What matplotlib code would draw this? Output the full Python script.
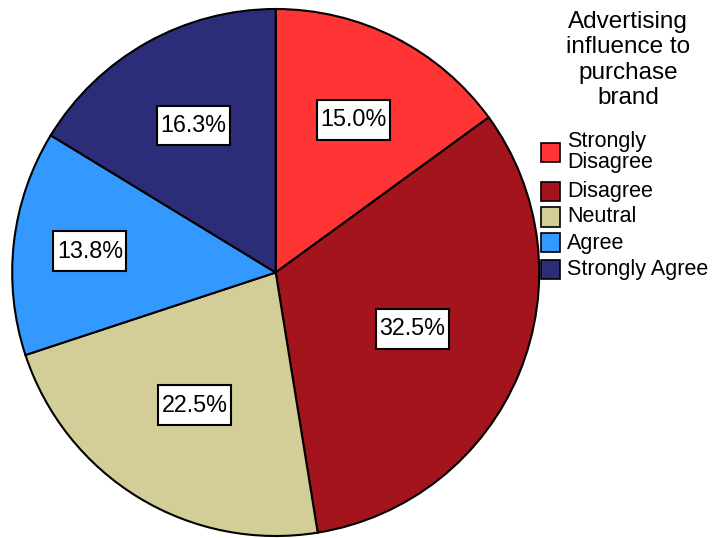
import numpy as np
import matplotlib
matplotlib.use('Agg')
import matplotlib.pyplot as plt
from matplotlib.patches import Rectangle
from matplotlib.path import Path

# 广告对品牌购买的影响 - 各选项占比
categories = ['Strongly\nDisagree', 'Disagree', 'Neutral', 'Agree', 'Strongly Agree']
percents = [15.0, 32.5, 22.5, 13.8, 16.3]
colors = ['#FF3535', '#A3141C', '#D3CE97', '#3399FF', '#2B2D78']
legend_title = 'Advertising\ninfluence to\npurchase\nbrand'

# 标签离圆心的距离（半径的比例）
label_dist = [0.65, 0.56, 0.59, 0.71, 0.64]

plt.rcParams['font.family'] = ['Liberation Sans', 'DejaVu Sans']

W, H = 714, 538
fig = plt.figure(figsize=(W / 100, H / 100), dpi=100)

def fx(x):
    return x / W

def fy(y):
    return 1 - y / H

# 标签方框：横向留白小，纵向留白大
def label_box(x0, y0, width, height, mutation_size):
    px = 0.15 * mutation_size
    py = 0.36 * mutation_size
    x0, y0 = x0 - px, y0 - py
    x1, y1 = x0 + width + 2 * px, y0 + height + 2 * py
    return Path([(x0, y0), (x1, y0), (x1, y1), (x0, y1), (x0, y0)], closed=True)

# 饼图区域，圆心约 (275.7, 272.5)，半径 263.5 像素
cx, cy, r = 275.7, 272.5, 263.5
ax = fig.add_axes([fx(cx - r), fy(cy + r), 2 * r / W, 2 * r / H])
wedges, _ = ax.pie(percents, colors=colors, startangle=90, counterclock=False,
                   radius=1, wedgeprops=dict(edgecolor='black', linewidth=1.5))
ax.set_xlim(-1, 1)
ax.set_ylim(-1, 1)
ax.axis('off')

for w, p, d in zip(wedges, percents, label_dist):
    mid = np.deg2rad((w.theta1 + w.theta2) / 2)
    ax.text(d * np.cos(mid), d * np.sin(mid), '%.1f%%' % p, fontsize=16.8,
            ha='center', va='center',
            bbox=dict(boxstyle=label_box, facecolor='white',
                      edgecolor='black', linewidth=1.5))

# 图例标题
fig.text(fx(628), fy(11), legend_title, fontsize=17.5, ha='center', va='top',
         multialignment='center', linespacing=1.2)

# 图例色块与文字
sq = 19
ys = [152, 191, 217, 243, 269]
for name, c, yc in zip(categories, colors, ys):
    fig.add_artist(Rectangle((fx(541), fy(yc + sq / 2)), sq / W, sq / H,
                             transform=fig.transFigure, facecolor=c,
                             edgecolor='black', linewidth=1.2))
    fig.text(fx(567), fy(yc), name, fontsize=15.5, ha='left', va='center',
             linespacing=1.0)

fig.savefig('out.png', dpi=100)
